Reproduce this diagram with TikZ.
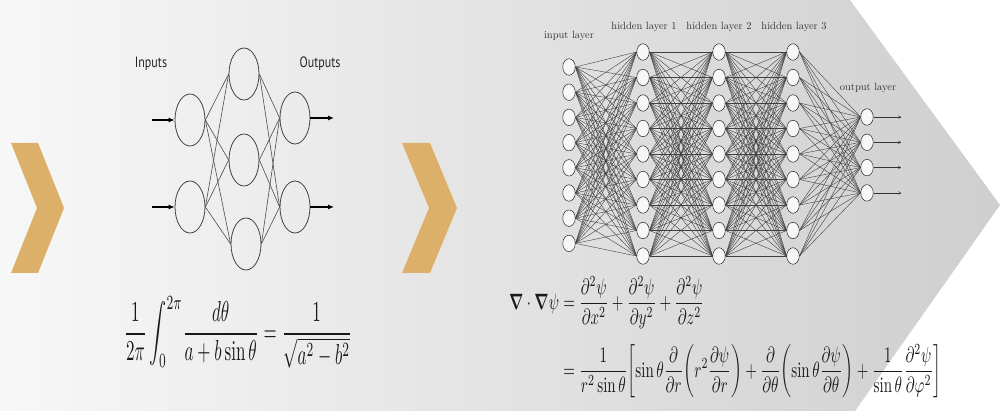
\documentclass[tikz,border=0pt]{standalone}
\usepackage{amsmath,amssymb}
\usepackage{graphicx}
\usepackage{fontspec}
\newfontfamily\labelsans{PT Sans}
\usetikzlibrary{shapes.geometric,arrows.meta}
\definecolor{chevcol}{HTML}{DCB068}
\tikzset{
  chevron/.style={fill=chevcol},
  sneur/.style={ellipse,draw=black!75,line width=0.8pt,minimum width=30pt,minimum height=52pt,inner sep=0pt},
  slink/.style={draw=black!70,line width=0.6pt},
  sarrow/.style={draw=black,line width=1.1pt,-{Latex[length=6pt,width=5pt]}},
  slabel/.style={font=\labelsans\fontsize{15}{15}\selectfont,text=black!85,inner sep=0pt},
  bneur/.style={ellipse,draw=black!85,line width=0.5pt,fill=gray!6,minimum width=12.5pt,minimum height=16.5pt,inner sep=0pt},
  blink/.style={draw=black!75,line width=0.4pt},
  barrow/.style={draw=black!80,line width=0.4pt,-{To[length=3pt,width=3pt]}},
  blabel/.style={font=\fontsize{10.5}{12}\selectfont,text=black!80,inner sep=0pt},
}
\begin{document}
\begin{tikzpicture}[x=1pt,y=-1pt]
\useasboundingbox (0,0) rectangle (1000,411);
\fill[white] (0,0) rectangle (1000,411);
\shade[left color=black!3,right color=black!19] (0,0) -- (850,0) -- (1000,205) -- (855,411) -- (0,411) -- cycle;

% chevrons
\fill[chevron] (11,143) -- (38,143) -- (64,208) -- (38,273) -- (11,273) -- (37,208) -- cycle;
\fill[chevron] (402,143) -- (430,143) -- (457,208) -- (430,273) -- (402,273) -- (429,208) -- cycle;

% small network
\node[sneur] (si1) at (190,120) {};
\node[sneur] (si2) at (190,207) {};
\node[sneur] (sh1) at (244,74) {};
\node[sneur] (sh2) at (244,160) {};
\node[sneur] (sh3) at (246,244) {};
\node[sneur] (so1) at (295,118) {};
\node[sneur] (so2) at (295,207) {};
\foreach \a in {si1,si2} \foreach \b in {sh1,sh2,sh3} \draw[slink] (\a.east) -- (\b.west);
\foreach \a in {sh1,sh2,sh3} \foreach \b in {so1,so2} \draw[slink] (\a.east) -- (\b.west);
\coordinate (sia1) at (152,120);
\coordinate (sia2) at (152,207);
\coordinate (soa1) at (334,118);
\coordinate (soa2) at (334,207);
\draw[sarrow] (sia1) -- (si1.west);
\draw[sarrow] (sia2) -- (si2.west);
\draw[sarrow] (so1.east) -- (soa1);
\draw[sarrow] (so2.east) -- (soa2);
\node[slabel] (sinlab) at (151,64) {\scalebox{0.8}[1]{Inputs}};
\node[slabel] (soutlab) at (320,64) {\scalebox{0.8}[1]{Outputs}};

% big network
\foreach \k in {1,...,8} \node[bneur] (I\k) at (569,{67+25.2*(\k-1)}) {};
\foreach \k in {1,...,9} {
  \node[bneur] (A\k) at (643,{52+25.5*(\k-1)}) {};
  \node[bneur] (B\k) at (719,{52+25.5*(\k-1)}) {};
  \node[bneur] (C\k) at (793,{52+25.5*(\k-1)}) {};
}
\foreach \k in {1,...,4} \node[bneur] (O\k) at (867,{117+25.3*(\k-1)}) {};
\foreach \a in {1,...,8} \foreach \b in {1,...,9} \draw[blink] (I\a.east) -- (A\b.west);
\foreach \a in {1,...,9} \foreach \b in {1,...,9} {
  \draw[blink] (A\a.east) -- (B\b.west);
  \draw[blink] (B\a.east) -- (C\b.west);
}
\foreach \a in {1,...,9} \foreach \b in {1,...,4} \draw[blink] (C\a.east) -- (O\b.west);
\foreach \k in {1,...,4} {
  \coordinate (OA\k) at (901,{117+25.3*(\k-1)});
  \draw[barrow] (O\k.east) -- (OA\k);
}
\node[blabel] (linput) at (569,36) {input layer};
\node[blabel] (lh1) at (644,27) {hidden layer 1};
\node[blabel] (lh2) at (719,27) {hidden layer 2};
\node[blabel] (lh3) at (794,27) {hidden layer 3};
\node[blabel] (lout) at (868,88) {output layer};

% formulas
\node[inner sep=0pt,text=black!90] (f1) at (238,332) {\resizebox*{228pt}{72pt}{$\displaystyle \frac{1}{2\pi}\int_0^{2\pi}\!\frac{d\theta}{a+b\sin\theta}=\frac{1}{\sqrt{a^2-b^2}}$}};
\node[inner sep=0pt,anchor=north west,text=black!90] (f2) at (509,276) {\resizebox*{432pt}{122pt}{$\begin{aligned}
\boldsymbol{\nabla}\cdot\boldsymbol{\nabla}\psi &= \frac{\partial^2\psi}{\partial x^2}+\frac{\partial^2\psi}{\partial y^2}+\frac{\partial^2\psi}{\partial z^2}\\[3pt]
&=\frac{1}{r^2\sin\theta}\!\left[\sin\theta\frac{\partial}{\partial r}\!\left(r^2\frac{\partial\psi}{\partial r}\right)+\frac{\partial}{\partial\theta}\!\left(\sin\theta\frac{\partial\psi}{\partial\theta}\right)+\frac{1}{\sin\theta}\frac{\partial^2\psi}{\partial\varphi^2}\right]
\end{aligned}$}};
\end{tikzpicture}
\end{document}
